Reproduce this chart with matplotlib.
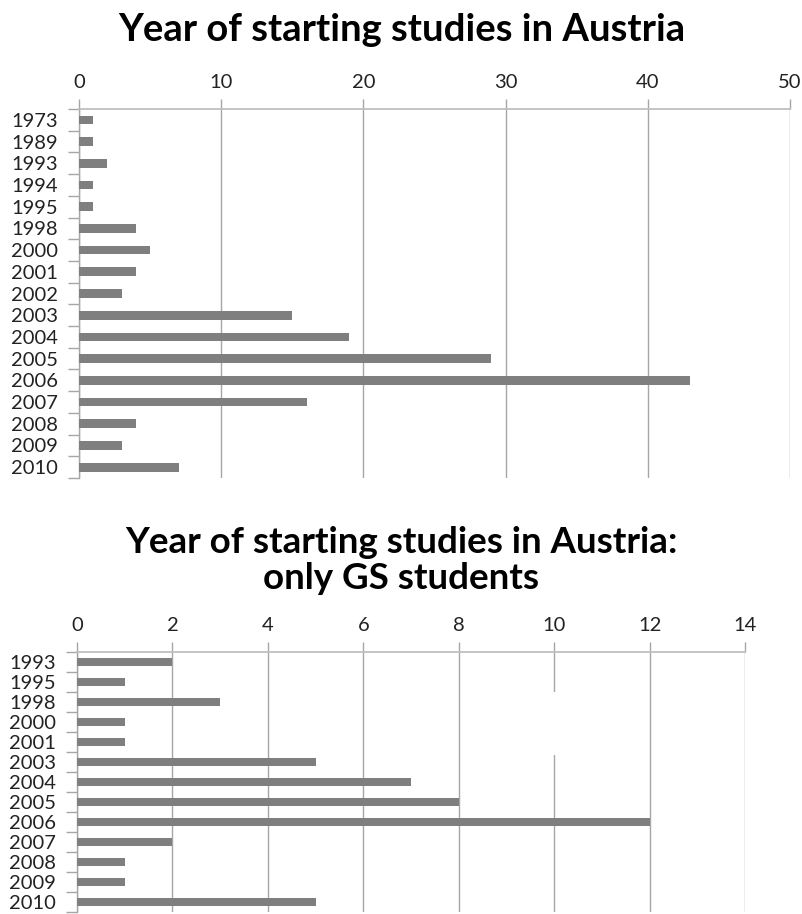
import matplotlib
matplotlib.use("Agg")
import matplotlib.pyplot as plt
from matplotlib.patches import Rectangle

plt.rcParams['font.family'] = ['Lato', 'DejaVu Sans']

# Data
years_all = ["1973", "1989", "1993", "1994", "1995", "1998", "2000", "2001", "2002",
             "2003", "2004", "2005", "2006", "2007", "2008", "2009", "2010"]
counts_all = [1, 1, 2, 1, 1, 4, 5, 4, 3, 15, 19, 29, 43, 16, 4, 3, 7]

years_gs = ["1993", "1995", "1998", "2000", "2001", "2003", "2004", "2005", "2006",
            "2007", "2008", "2009", "2010"]
counts_gs = [2, 1, 3, 1, 1, 5, 7, 8, 12, 2, 1, 1, 5]

title_all = "Year of starting studies in Austria"
title_gs = "Year of starting studies in Austria:\nonly GS students"

BAR = "#7f7f7f"
GRID = "#a6a6a6"
SPINE = "#bfbfbf"

fig = plt.figure(figsize=(8.03, 9.14), dpi=100)


def style(ax, cats, vals, xmax, step, barh):
    n = len(cats)
    ax.barh(range(n), vals, height=barh, color=BAR, zorder=3)
    ax.set_ylim(n - 0.5, -0.5)
    ax.set_xlim(0, xmax)
    ax.set_xticks(range(0, xmax + 1, step))
    ax.xaxis.tick_top()
    ax.tick_params(axis='x', which='major', length=7, width=1, color=GRID,
                   labelsize=14.5, pad=6, labelcolor='#222222')
    ax.set_yticks(range(n))
    ax.set_yticklabels(cats)
    ax.set_yticks([i - 0.5 for i in range(n + 1)], minor=True)
    ax.tick_params(axis='y', which='major', length=0, labelsize=14.5, pad=15,
                   labelcolor='#222222')
    ax.tick_params(axis='y', which='minor', length=8, width=1, color=GRID)
    ax.grid(axis='x', color=GRID, linewidth=1, zorder=0)
    ax.set_axisbelow(True)
    for s in ['right', 'bottom']:
        ax.spines[s].set_visible(False)
    ax.spines['top'].set_color(SPINE)
    ax.spines['top'].set_linewidth(1.3)
    ax.spines['left'].set_color(GRID)
    ax.spines['left'].set_linewidth(1)


ax1 = fig.add_axes([0.0984, 0.4770, 0.8854, 0.4037])
style(ax1, years_all, counts_all, 50, 10, 0.40)

ax2 = fig.add_axes([0.0959, 0.0022, 0.8319, 0.2845])
style(ax2, years_gs, counts_gs, 14, 2, 0.38)
# white gap across the 10 gridline, as in the reference
ax2.add_patch(Rectangle((9.85, 1.5), 0.3, 3.15, facecolor='white',
                        edgecolor='none', zorder=1))

fig.text(0.5, 0.967, title_all, ha='center', va='center', fontsize=27.5,
         fontweight='bold', color='#000000')
fig.text(0.5, 0.387, title_gs, ha='center', va='center', fontsize=26.5,
         fontweight='bold', color='#000000', linespacing=1.1)

fig.savefig("out.png", dpi=100, facecolor='white')
